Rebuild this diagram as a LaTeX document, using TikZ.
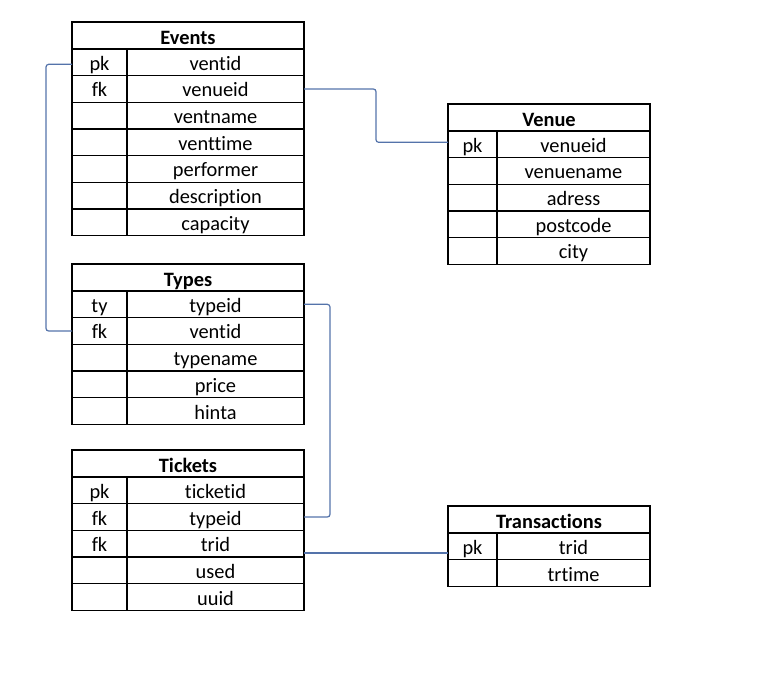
\documentclass[tikz,border=0pt]{standalone}
\usepackage{fontspec}
\setmainfont{Carlito}[Ligatures=NoCommon]
\usepackage{tikz}
\usetikzlibrary{positioning}
\definecolor{linkblue}{RGB}{84,115,170}

\begin{document}
\begin{tikzpicture}[x=0.75pt, y=-0.75pt, outer sep=0pt, inner sep=0pt,
                    font=\fontsize{15.3}{18}\selectfont]
  \tikzstyle{head}=[draw, line width=1.5pt, minimum height=20.25pt, anchor=north west,
                    text height=16pt, text depth=3pt,
                    font=\fontsize{15.3}{18}\selectfont\bfseries]
  \tikzstyle{cell}=[draw, line width=0.8pt, minimum height=20pt, text height=15pt, text depth=3pt]
  \tikzstyle{keycol}=[cell, minimum width=41.25pt]
  \tikzstyle{fieldcol}=[cell, minimum width=132.75pt]
  \tikzstyle{vkeycol}=[cell, minimum width=36.75pt]
  \tikzstyle{vfieldcol}=[cell, minimum width=114.75pt]
  \tikzstyle{link}=[draw=linkblue, line width=0.9pt, rounded corners=2pt]

  \useasboundingbox (0,0) rectangle (778,673);

  % Events
  \node[head, minimum width=174pt] (ev) at (72,22) {Events};
  \node[keycol] (ev1) [below=0pt of ev.south west, anchor=north west] {pk};
  \node[keycol] (ev2) [below=0pt of ev1] {fk};
  \node[keycol] (ev3) [below=0pt of ev2] {};
  \node[keycol] (ev4) [below=0pt of ev3] {};
  \node[keycol] (ev5) [below=0pt of ev4] {};
  \node[keycol] (ev6) [below=0pt of ev5] {};
  \node[keycol] (ev7) [below=0pt of ev6] {};
  \node[fieldcol] (ev1f) [right=0pt of ev1] {ventid};
  \node[fieldcol] (ev2f) [right=0pt of ev2] {venueid};
  \node[fieldcol] (ev3f) [right=0pt of ev3] {ventname};
  \node[fieldcol] (ev4f) [right=0pt of ev4] {venttime};
  \node[fieldcol] (ev5f) [right=0pt of ev5] {performer};
  \node[fieldcol] (ev6f) [right=0pt of ev6] {description};
  \node[fieldcol] (ev7f) [right=0pt of ev7] {capacity};

  % Venue
  \node[head, minimum width=151.5pt] (ve) at (448,104) {Venue};
  \node[vkeycol] (ve1) [below=0pt of ve.south west, anchor=north west] {pk};
  \node[vkeycol] (ve2) [below=0pt of ve1] {};
  \node[vkeycol] (ve3) [below=0pt of ve2] {};
  \node[vkeycol] (ve4) [below=0pt of ve3] {};
  \node[vkeycol] (ve5) [below=0pt of ve4] {};
  \node[vfieldcol] (ve1f) [right=0pt of ve1] {venueid};
  \node[vfieldcol] (ve2f) [right=0pt of ve2] {venuename};
  \node[vfieldcol] (ve3f) [right=0pt of ve3] {adress};
  \node[vfieldcol] (ve4f) [right=0pt of ve4] {postcode};
  \node[vfieldcol] (ve5f) [right=0pt of ve5] {city};

  % Types
  \node[head, minimum width=174pt] (ty) at (72,264) {Types};
  \node[keycol] (ty1) [below=0pt of ty.south west, anchor=north west] {ty};
  \node[keycol] (ty2) [below=0pt of ty1] {fk};
  \node[keycol] (ty3) [below=0pt of ty2] {};
  \node[keycol] (ty4) [below=0pt of ty3] {};
  \node[keycol] (ty5) [below=0pt of ty4] {};
  \node[fieldcol] (ty1f) [right=0pt of ty1] {typeid};
  \node[fieldcol] (ty2f) [right=0pt of ty2] {ventid};
  \node[fieldcol] (ty3f) [right=0pt of ty3] {typename};
  \node[fieldcol] (ty4f) [right=0pt of ty4] {price};
  \node[fieldcol] (ty5f) [right=0pt of ty5] {hinta};

  % Tickets
  \node[head, minimum width=174pt] (tk) at (72,450) {Tickets};
  \node[keycol] (tk1) [below=0pt of tk.south west, anchor=north west] {pk};
  \node[keycol] (tk2) [below=0pt of tk1] {fk};
  \node[keycol] (tk3) [below=0pt of tk2] {fk};
  \node[keycol] (tk4) [below=0pt of tk3] {};
  \node[keycol] (tk5) [below=0pt of tk4] {};
  \node[fieldcol] (tk1f) [right=0pt of tk1] {ticketid};
  \node[fieldcol] (tk2f) [right=0pt of tk2] {typeid};
  \node[fieldcol] (tk3f) [right=0pt of tk3] {trid};
  \node[fieldcol] (tk4f) [right=0pt of tk4] {used};
  \node[fieldcol] (tk5f) [right=0pt of tk5] {uuid};

  % Transactions
  \node[head, minimum width=151.5pt] (tr) at (448,506) {Transactions};
  \node[vkeycol] (tr1) [below=0pt of tr.south west, anchor=north west] {pk};
  \node[vkeycol] (tr2) [below=0pt of tr1] {};
  \node[vfieldcol] (tr1f) [right=0pt of tr1] {trid};
  \node[vfieldcol] (tr2f) [right=0pt of tr2] {trtime};

  % links
  \draw[link] ([yshift=-1.5pt]ev1.west) -- ++(-26,0) |- (ty2.west);
  \draw[link] (ev2f.east) -- ++(72,0) |- ([yshift=1.5pt]ve1.west);
  \draw[link] (ty1f.east) -- ++(26,0) |- (tk2f.east);
  \draw[link] ([yshift=-5pt]tr1.west -| tk3f.east) -- ([yshift=-5pt]tr1.west);
\end{tikzpicture}
\end{document}
